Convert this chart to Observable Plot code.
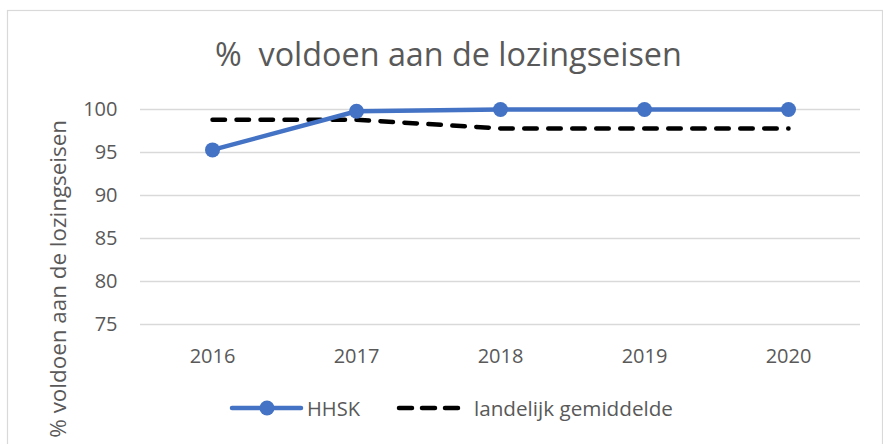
<!DOCTYPE html>
<html><head><meta charset="utf-8">
<script src="https://cdn.jsdelivr.net/npm/d3@7"></script>
<script src="https://cdn.jsdelivr.net/npm/@observablehq/plot@0.6"></script>
<style>body{margin:0;background:#fff;} svg{display:block}</style>
</head><body><div id="chart"></div>
<script>
const years = ["2016", "2017", "2018", "2019", "2020"];
const hhsk = [95.3, 99.8, 100, 100, 100];
const landelijk = [98.8, 98.8, 97.8, 97.8, 97.8];
const yTicks = [75, 80, 85, 90, 95, 100];
const title = "%  voldoen aan de lozingseisen";
const yLabel = "% voldoen aan de lozingseisen";
const seriesNames = ["HHSK", "landelijk gemiddelde"];

const dataH = years.map((y, i) => ({year: y, value: hhsk[i]}));
const dataL = years.map((y, i) => ({year: y, value: landelijk[i]}));

const font = "'Open Sans', sans-serif";
const grey = "#595959";
const blue = "#4472C4";

const chart = Plot.plot({
  width: 883, height: 444,
  marginLeft: 140, marginRight: 23, marginTop: 109, marginBottom: 120,
  style: {fontFamily: font, background: "#fff", color: grey, overflow: "visible"},
  x: {type: "point", domain: years, padding: 0.5, label: null},
  y: {domain: [75, 100], label: null},
  marks: [
    Plot.ruleY(yTicks, {stroke: "#d9d9d9", strokeWidth: 1.4}),
    Plot.axisY({ticks: yTicks, tickSize: 0, tickPadding: 23, fontSize: 20, label: null}),
    Plot.axisX({tickSize: 0, tickPadding: 24, fontSize: 20, label: null}),
    Plot.line(dataL, {x: "year", y: "value", stroke: "#000", strokeWidth: 4.5, strokeDasharray: "12.5,11.5", strokeLinecap: "round"}),
    Plot.line(dataH, {x: "year", y: "value", stroke: blue, strokeWidth: 4.5}),
    Plot.dot(dataH, {x: "year", y: "value", r: 7.5, fill: blue})
  ]
});
document.getElementById("chart").appendChild(chart);

const svg = d3.select(chart);
function fit(sel, target) {
  const fs = parseFloat(sel.attr("font-size"));
  const w = sel.node().getComputedTextLength();
  sel.attr("font-size", fs * target / w);
}
// border
svg.insert("rect", ":first-child").attr("x", 7.5).attr("y", 10.5).attr("width", 875).attr("height", 450)
  .attr("fill", "none").attr("stroke", "#d9d9d9").attr("stroke-width", 1.2);

// title
const t = svg.append("text").text(title).attr("x", 215).attr("y", 66).attr("text-anchor", "start")
  .attr("font-family", font).attr("font-size", 28).attr("fill", grey).style("white-space", "pre");
fit(t, 467);

// y label
const yl = svg.append("text").text(yLabel).attr("transform", "translate(66,120) rotate(-90)")
  .attr("text-anchor", "end").attr("font-family", font).attr("font-size", 22).attr("fill", grey);
fit(yl, 318);

// legend
const lg = svg.append("g").attr("text-anchor", "start");
lg.append("line").attr("x1", 232).attr("x2", 301).attr("y1", 408).attr("y2", 408)
  .attr("stroke", blue).attr("stroke-width", 4.5).attr("stroke-linecap", "round");
lg.append("circle").attr("cx", 267).attr("cy", 408).attr("r", 7.5).attr("fill", blue);
const l1 = lg.append("text").text(seriesNames[0]).attr("x", 307).attr("y", 416).attr("text-anchor", "start")
  .attr("font-family", font).attr("font-size", 20).attr("fill", grey);
fit(l1, 53);
lg.append("line").attr("x1", 399).attr("x2", 460).attr("y1", 408).attr("y2", 408)
  .attr("stroke", "#000").attr("stroke-width", 4.5).attr("stroke-linecap", "round").attr("stroke-dasharray", "13,10");
const l2 = lg.append("text").text(seriesNames[1]).attr("x", 474).attr("y", 416).attr("text-anchor", "start")
  .attr("font-family", font).attr("font-size", 20).attr("fill", grey);
fit(l2, 199);
</script>
</body></html>
